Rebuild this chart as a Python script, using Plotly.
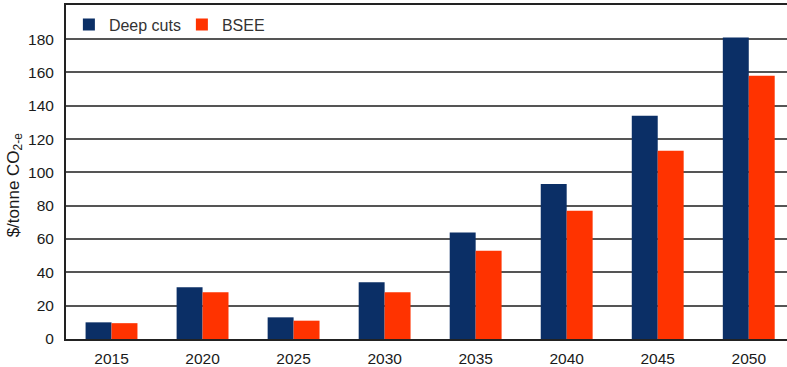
import plotly.graph_objects as go

years = ["2015", "2020", "2025", "2030", "2035", "2040", "2045", "2050"]
deep_cuts = [10, 31, 13, 34, 64, 93, 134, 181]
bsee = [9.5, 28, 11, 28, 53, 77, 113, 158]
y_ticks = [0, 20, 40, 60, 80, 100, 120, 140, 160, 180]

NAVY = "#0b2f66"
ORANGE = "#ff3300"
FONT = "Liberation Sans, Arial, sans-serif"
TEXT = "#1a1a1a"

fig = go.Figure()
fig.add_trace(go.Bar(x=years, y=deep_cuts, name="Deep cuts",
                     marker=dict(color=NAVY, line=dict(width=0))))
fig.add_trace(go.Bar(x=years, y=bsee, name="BSEE",
                     marker=dict(color=ORANGE, line=dict(width=0))))

fig.update_layout(
    width=787, height=367,
    margin=dict(l=66, r=0, t=5, b=28),
    paper_bgcolor="white", plot_bgcolor="white",
    barmode="group", bargap=0.43, bargroupgap=0,
    font=dict(family=FONT, color=TEXT, size=14),
    showlegend=True,
    legend=dict(orientation="h", x=0.004, y=0.992, xanchor="left", yanchor="top",
                bgcolor="rgba(0,0,0,0)", font=dict(size=16, color="#333333"),
                itemwidth=30, entrywidth=68, entrywidthmode="pixels",
                traceorder="normal", tracegroupgap=0),
)

# vertical axis title, placed as a rotated annotation left of the tick labels
fig.add_annotation(
    text="$/tonne CO<sub>2-e</sub>", textangle=-90,
    xref="paper", yref="paper", x=-51 / 721, y=0.46,
    xanchor="center", yanchor="middle", showarrow=False,
    font=dict(size=17, color=TEXT),
)

fig.update_xaxes(
    type="category", range=[-0.5, 7.42],
    showline=True, linecolor="#222222", linewidth=2, mirror=True,
    showgrid=False, ticks="", tickfont=dict(size=15.5, color=TEXT),
    ticklabelstandoff=4,
)
fig.update_yaxes(
    range=[0, 200.5], tickvals=y_ticks,
    showline=True, linecolor="#222222", linewidth=2,
    showgrid=True, gridcolor="#555555", gridwidth=1.6,
    zeroline=False, ticks="", tickfont=dict(size=15.5, color=TEXT),
    ticklabelstandoff=7,
)

fig.write_html("out.html")
